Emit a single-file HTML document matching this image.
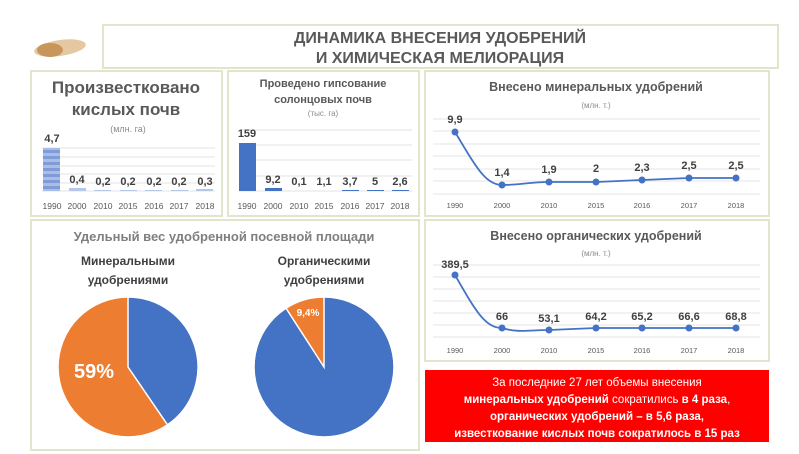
<!DOCTYPE html>
<html><head><meta charset="utf-8"><style>
body{margin:0;width:799px;height:454px;background:#fff;overflow:hidden}
svg{display:block}
text{font-family:"Liberation Sans",sans-serif}
</style></head><body>
<svg width="799" height="454" viewBox="0 0 799 454">
<defs>
<pattern id="st" width="4" height="6" patternUnits="userSpaceOnUse"><rect width="4" height="6" fill="#a9bde6"/><rect width="4" height="3" fill="#7f9bd8"/></pattern>
</defs>
<!-- wheat -->
<ellipse cx="60" cy="48" rx="26" ry="8" fill="#d9b07a" opacity="0.7" transform="rotate(-8 60 48)"/>
<ellipse cx="50" cy="50" rx="13" ry="7" fill="#c08a4a" opacity="0.8"/>
<!-- boxes -->
<g fill="#fff" stroke="#dfe6cc" stroke-width="2">
<rect x="103" y="25" width="675" height="43"/>
<rect x="31" y="71" width="191" height="145"/>
<rect x="228" y="71" width="191" height="145"/>
<rect x="425" y="71" width="344" height="145"/>
<rect x="31" y="220" width="388" height="230"/>
<rect x="425" y="220" width="344" height="141"/>
</g>
<text x="440" y="43" text-anchor="middle" font-size="16" font-weight="bold" fill="#595959">ДИНАМИКА ВНЕСЕНИЯ УДОБРЕНИЙ</text>
<text x="440" y="63" text-anchor="middle" font-size="16" font-weight="bold" fill="#595959">И ХИМИЧЕСКАЯ МЕЛИОРАЦИЯ</text>
<!-- panel 1 -->
<text x="126" y="93" text-anchor="middle" font-size="17" font-weight="bold" fill="#595959">Произвестковано</text>
<text x="126" y="115" text-anchor="middle" font-size="17" font-weight="bold" fill="#595959">кислых почв</text>
<text x="128" y="132" text-anchor="middle" font-size="9" fill="#8c8c8c">(млн. га)</text>
<g stroke="#e3e3e3"><line x1="42" y1="148" x2="215" y2="148"/><line x1="42" y1="157" x2="215" y2="157"/><line x1="42" y1="166" x2="215" y2="166"/><line x1="42" y1="174" x2="215" y2="174"/><line x1="42" y1="183" x2="215" y2="183"/><line x1="42" y1="191" x2="215" y2="191"/></g>
<rect x="43" y="148" width="17" height="43" fill="url(#st)"/>
<g fill="#b4c6ea"><rect x="69" y="188" width="17" height="3"/><rect x="94" y="190" width="17" height="1"/><rect x="120" y="190" width="17" height="1"/><rect x="145" y="190" width="17" height="1"/><rect x="171" y="190" width="17" height="1"/><rect x="196" y="189" width="17" height="2"/></g>
<g font-size="11" font-weight="bold" fill="#404040" text-anchor="middle">
<text x="52" y="142">4,7</text><text x="77" y="183">0,4</text><text x="103" y="185">0,2</text><text x="128" y="185">0,2</text><text x="154" y="185">0,2</text><text x="179" y="185">0,2</text><text x="205" y="185">0,3</text></g>
<g font-size="8.5" fill="#595959" text-anchor="middle"><text x="52" y="209">1990</text><text x="77" y="209">2000</text><text x="103" y="209">2010</text><text x="128" y="209">2015</text><text x="154" y="209">2016</text><text x="179" y="209">2017</text><text x="205" y="209">2018</text></g>
<!-- panel 2 -->
<text x="323" y="87" text-anchor="middle" font-size="11" font-weight="bold" fill="#595959">Проведено гипсование</text>
<text x="323" y="103" text-anchor="middle" font-size="11" font-weight="bold" fill="#595959">солонцовых почв</text>
<text x="323" y="116" text-anchor="middle" font-size="8" fill="#8c8c8c">(тыс. га)</text>
<g stroke="#e3e3e3"><line x1="239" y1="130" x2="412" y2="130"/><line x1="239" y1="145" x2="412" y2="145"/><line x1="239" y1="160" x2="412" y2="160"/><line x1="239" y1="176" x2="412" y2="176"/><line x1="239" y1="191" x2="412" y2="191"/></g>
<g fill="#4472c4"><rect x="239" y="143" width="17" height="48"/><rect x="265" y="188" width="17" height="3"/><rect x="342" y="190" width="17" height="1"/><rect x="367" y="190" width="17" height="1"/><rect x="392" y="190" width="17" height="1"/></g>
<g font-size="11" font-weight="bold" fill="#404040" text-anchor="middle">
<text x="247" y="137">159</text><text x="273" y="183">9,2</text><text x="299" y="185">0,1</text><text x="324" y="185">1,1</text><text x="350" y="185">3,7</text><text x="375" y="185">5</text><text x="400" y="185">2,6</text></g>
<g font-size="8.5" fill="#595959" text-anchor="middle"><text x="247" y="209">1990</text><text x="273" y="209">2000</text><text x="299" y="209">2010</text><text x="324" y="209">2015</text><text x="350" y="209">2016</text><text x="375" y="209">2017</text><text x="400" y="209">2018</text></g>
<!-- panel 3 -->
<text x="596" y="91" text-anchor="middle" font-size="12.5" font-weight="bold" fill="#595959">Внесено минеральных удобрений</text>
<text x="596" y="108" text-anchor="middle" font-size="8" fill="#8c8c8c">(млн. т.)</text>
<g stroke="#e6e6e6"><line x1="433" y1="119" x2="760" y2="119"/><line x1="433" y1="131" x2="760" y2="131"/><line x1="433" y1="144" x2="760" y2="144"/><line x1="433" y1="156" x2="760" y2="156"/><line x1="433" y1="169" x2="760" y2="169"/><line x1="433" y1="181" x2="760" y2="181"/><line x1="433" y1="194" x2="760" y2="194"/></g>
<path d="M455 132 C475 165 485 185 502 185 C520 185 530 182 549 182 L596 182 L642 180 L689 178 L736 178" fill="none" stroke="#4472c4" stroke-width="1.8"/>
<g fill="#4472c4"><circle cx="455" cy="132" r="3.5"/><circle cx="502" cy="185" r="3.5"/><circle cx="549" cy="182" r="3.5"/><circle cx="596" cy="182" r="3.5"/><circle cx="642" cy="180" r="3.5"/><circle cx="689" cy="178" r="3.5"/><circle cx="736" cy="178" r="3.5"/></g>
<g font-size="11" font-weight="bold" fill="#404040" text-anchor="middle">
<text x="455" y="123">9,9</text><text x="502" y="176">1,4</text><text x="549" y="173">1,9</text><text x="596" y="172">2</text><text x="642" y="171">2,3</text><text x="689" y="169">2,5</text><text x="736" y="169">2,5</text></g>
<g font-size="7.5" fill="#595959" text-anchor="middle"><text x="455" y="208">1990</text><text x="502" y="208">2000</text><text x="549" y="208">2010</text><text x="596" y="208">2015</text><text x="642" y="208">2016</text><text x="689" y="208">2017</text><text x="736" y="208">2018</text></g>
<!-- panel organic -->
<text x="596" y="240" text-anchor="middle" font-size="12.5" font-weight="bold" fill="#595959">Внесено органических удобрений</text>
<text x="596" y="256" text-anchor="middle" font-size="8" fill="#8c8c8c">(млн. т.)</text>
<g stroke="#e6e6e6"><line x1="433" y1="265" x2="760" y2="265"/><line x1="433" y1="277" x2="760" y2="277"/><line x1="433" y1="289" x2="760" y2="289"/><line x1="433" y1="301" x2="760" y2="301"/><line x1="433" y1="313" x2="760" y2="313"/><line x1="433" y1="325" x2="760" y2="325"/><line x1="433" y1="337" x2="760" y2="337"/></g>
<path d="M455 275 C475 310 485 328 502 328 C518 333 530 330 549 330 L596 328 L642 328 L689 328 L736 328" fill="none" stroke="#4472c4" stroke-width="1.8"/>
<g fill="#4472c4"><circle cx="455" cy="275" r="3.5"/><circle cx="502" cy="328" r="3.5"/><circle cx="549" cy="330" r="3.5"/><circle cx="596" cy="328" r="3.5"/><circle cx="642" cy="328" r="3.5"/><circle cx="689" cy="328" r="3.5"/><circle cx="736" cy="328" r="3.5"/></g>
<g font-size="11" font-weight="bold" fill="#404040" text-anchor="middle">
<text x="455" y="268">389,5</text><text x="502" y="320">66</text><text x="549" y="322">53,1</text><text x="596" y="320">64,2</text><text x="642" y="320">65,2</text><text x="689" y="320">66,6</text><text x="736" y="320">68,8</text></g>
<g font-size="7.5" fill="#595959" text-anchor="middle"><text x="455" y="353">1990</text><text x="502" y="353">2000</text><text x="549" y="353">2010</text><text x="596" y="353">2015</text><text x="642" y="353">2016</text><text x="689" y="353">2017</text><text x="736" y="353">2018</text></g>
<!-- red box -->
<rect x="425" y="370" width="344" height="72" fill="#ff0000"/>
<g font-size="11.5" fill="#fff" text-anchor="middle">
<text x="597" y="386">За последние 27 лет объемы внесения</text>
<text x="597" y="403"><tspan font-weight="bold">минеральных удобрений</tspan> сократились <tspan font-weight="bold">в 4 раза</tspan>,</text>
<text x="597" y="420" font-weight="bold">органических удобрений – в 5,6 раза,</text>
<text x="597" y="437" font-weight="bold">известкование кислых почв сократилось в 15 раз</text></g>
<!-- pies -->
<text x="224" y="241" text-anchor="middle" font-size="13" font-weight="bold" fill="#7f7f7f">Удельный вес удобренной посевной площади</text>
<text x="128" y="265" text-anchor="middle" font-size="12" font-weight="bold" fill="#404040">Минеральными</text>
<text x="128" y="284" text-anchor="middle" font-size="12" font-weight="bold" fill="#404040">удобрениями</text>
<text x="324" y="265" text-anchor="middle" font-size="12" font-weight="bold" fill="#404040">Органическими</text>
<text x="324" y="284" text-anchor="middle" font-size="12" font-weight="bold" fill="#404040">удобрениями</text>
<g stroke="#fff" stroke-width="1.5">
<circle cx="128" cy="367" r="70" fill="#ed7d31"/>
<path d="M128 367 L128 297 A70 70 0 0 1 167.5 424.8 Z" fill="#4472c4"/>
<circle cx="324" cy="367" r="70" fill="#4472c4"/>
<path d="M324 367 L324 297 A70 70 0 0 0 286 308.2 Z" fill="#ed7d31"/>
</g>
<text x="94" y="378" text-anchor="middle" font-size="20" font-weight="bold" fill="#fff">59%</text>
<text x="308" y="316" text-anchor="middle" font-size="10" font-weight="bold" fill="#fff">9,4%</text>
</svg>
</body></html>
